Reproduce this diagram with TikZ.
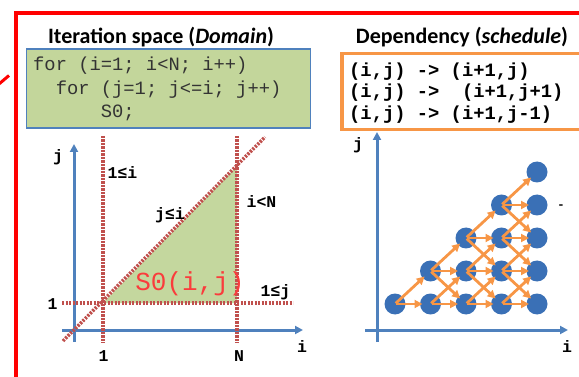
\documentclass[tikz,border=0pt]{standalone}
\usepackage{fontspec}
\setmainfont{Carlito}
\setmonofont{Liberation Mono}
\usetikzlibrary{arrows.meta}
\definecolor{frame}{RGB}{255,0,0}
\definecolor{axisblue}{RGB}{79,129,189}
\definecolor{dotblue}{RGB}{58,112,182}
\definecolor{boxgreen}{RGB}{195,214,155}
\definecolor{trigreen}{RGB}{196,215,158}
\definecolor{dotred}{RGB}{192,80,77}
\definecolor{orng}{RGB}{247,150,70}
\definecolor{sred}{RGB}{250,60,60}
\tikzset{
  title/.style={font=\fontsize{22}{24}\selectfont\bfseries, inner sep=0pt},
  codeline/.style={font=\fontsize{18.8}{20}\selectfont\ttfamily, anchor=base west, inner sep=0pt, text=black!80},
  depline/.style={font=\fontsize{18.8}{20}\selectfont\ttfamily\bfseries, anchor=base west, inner sep=0pt},
  lbl/.style={font=\fontsize{16.5}{18}\selectfont\ttfamily\bfseries, inner sep=0pt},
  axis/.style={axisblue, line width=3pt, -{Triangle[length=8pt,width=8pt]}},
  redline/.style={dotred, line width=3.5pt, dash pattern=on 2.2pt off 1.3pt},
  pt/.style={circle, fill=dotblue, minimum size=21pt, inner sep=0pt},
  dep/.style={orng, line width=2.8pt, -{Triangle[length=8pt,width=8pt]}, shorten >=8pt, shorten <=1pt},
}
\begin{document}
\begin{tikzpicture}[x=1pt,y=-1pt]
\useasboundingbox (0,0) rectangle (579,377);
% red frame
\coordinate (f1) at (15.5,380);
\coordinate (f2) at (15.5,13.5);
\coordinate (f3) at (582,13.5);
\draw[frame, line width=4pt] (f1) -- (f2) -- (f3);
\coordinate (s1) at (-1,84);
\coordinate (s2) at (9,75.5);
\draw[frame, line width=3pt] (s1) -- (s2);

% titles
\node[title] (t1) at (161,37) {Iteration space (\textit{Domain})};
\node[title] (t2) at (462,37) {Dependency (\textit{schedule})};

% code box
\node[draw=axisblue, line width=1.3pt, fill=boxgreen, minimum width=284.5pt, minimum height=79pt, inner sep=0pt] (cb) at (168.5,88.5) {};
\node[codeline] (c1) at (33,71) {for (i=1; i<N; i++)};
\node[codeline] (c2) at (33,94.5) {\ \ for (j=1; j<=i; j++)};
\node[codeline] (c3) at (33,117.5) {\ \ \ \ \ \ S0;};

% dependency box
\node[draw=orng, line width=3.5pt, minimum width=248pt, minimum height=76pt, inner sep=0pt] (db) at (466,91.5) {};
\node[depline] (d1) at (349,77) {(i,j) -> (i+1,j)};
\node[depline] (d2) at (349,98) {(i,j) ->\ \ (i+1,j+1)};
\node[depline] (d3) at (349,119.5) {(i,j) -> (i+1,j-1)};

% ---- left plot ----
\coordinate (A) at (103,303);
\coordinate (B) at (237,303);
\coordinate (C) at (237,166);
\fill[trigreen] (A) -- (B) -- (C) -- cycle;
\coordinate (ja0) at (74,342);
\coordinate (ja1) at (74,144);
\coordinate (ia0) at (62,330);
\coordinate (ia1) at (303,330);
\draw[axis] (ja0) -- (ja1);
\draw[axis] (ia0) -- (ia1);
\coordinate (v1a) at (103,136);
\coordinate (v1b) at (103,343);
\coordinate (v2a) at (237,136);
\coordinate (v2b) at (237,343);
\coordinate (h1a) at (62,303);
\coordinate (h1b) at (293,303);
\coordinate (g1a) at (63,341);
\coordinate (g1b) at (265,137);
\draw[redline] (v1a) -- (v1b);
\draw[redline] (v2a) -- (v2b);
\draw[redline] (h1a) -- (h1b);
\draw[redline] (g1a) -- (g1b);

\node[lbl] (lj) at (58,157) {j};
\node[lbl] (li) at (302,347) {i};
\node[lbl] (l1i) at (122.5,173) {1≤i};
\node[lbl] (liN) at (261.5,202) {i<N};
\node[lbl] (lji) at (170,215) {j≤i};
\node[lbl] (l1j) at (275.5,292) {1≤j};
\node[lbl] (lone) at (52.5,304) {1};
\node[lbl] (lonex) at (103.5,356) {1};
\node[lbl] (lN) at (239,356) {N};
\node[font=\fontsize{26}{28}\selectfont\ttfamily, text=sred, inner sep=0pt] (s0) at (190,284) {S0(i,j)};

% ---- right plot ----
\coordinate (rja0) at (377,342);
\coordinate (rja1) at (377,132);
\coordinate (ria0) at (365,330);
\coordinate (ria1) at (568,330);
\draw[axis] (rja0) -- (rja1);
\draw[axis] (ria0) -- (ria1);
\node[lbl] (rj) at (358,145) {j};
\node[lbl] (ri) at (567,347) {i};
\node[font=\fontsize{14}{16}\selectfont\bfseries, inner sep=0pt] (dash) at (561,207) {-};

\foreach \i in {1,...,5}{
  \foreach \j in {1,...,\i}{
    \node[pt] (p\i\j) at ({395+35.5*(\i-1)},{304-33*(\j-1)}) {};
  }
}
\foreach \i in {1,...,4}{
  \pgfmathtruncatemacro{\ni}{\i+1}
  \foreach \j in {1,...,\i}{
    \pgfmathtruncatemacro{\nj}{\j+1}
    \pgfmathtruncatemacro{\pj}{\j-1}
    \draw[dep] (p\i\j.center) -- (p\ni\j.center);
    \draw[dep] (p\i\j.center) -- (p\ni\nj.center);
    \ifnum\pj>0
      \draw[dep] (p\i\j.center) -- (p\ni\pj.center);
    \fi
  }
}
\end{tikzpicture}
\end{document}
